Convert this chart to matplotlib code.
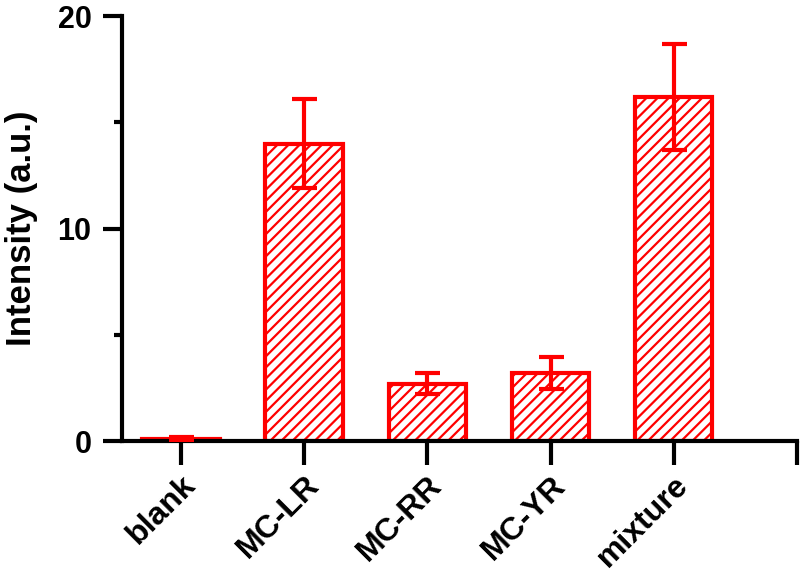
import numpy as np
import matplotlib
matplotlib.use('Agg')
import matplotlib.pyplot as plt
import matplotlib.transforms as mtransforms

categories = ['blank', 'MC-LR', 'MC-RR', 'MC-YR', 'mixture']
intensity = [0.1, 14.0, 2.7, 3.2, 16.2]
errors = [0.1, 2.1, 0.5, 0.75, 2.5]

plt.rcParams['font.family'] = ['Liberation Sans', 'DejaVu Sans']
plt.rcParams['font.weight'] = 'bold'
plt.rcParams['hatch.color'] = 'red'
plt.rcParams['hatch.linewidth'] = 1.6

fig = plt.figure(figsize=(8, 5.72), dpi=100)
ax = fig.add_axes([0.1525, 0.229, 0.8435, 0.743])

x = np.arange(len(categories))
ax.bar(x, intensity, width=0.63, facecolor='white', edgecolor='red',
       linewidth=3, hatch='///', zorder=2)
ax.errorbar(x, intensity, yerr=errors, fmt='none', ecolor='red',
            elinewidth=3, capsize=9, capthick=3, zorder=3)

ax.set_xlim(-0.48, 5.0)
ax.set_ylim(0, 20)
ax.set_xticks(list(x) + [5])
ax.set_xticklabels(categories + [''], rotation=45, ha='right', va='top',
                   rotation_mode='anchor', fontsize=23, fontweight='bold')
offset = mtransforms.ScaledTranslation(0.07, 0, fig.dpi_scale_trans)
for lbl in ax.get_xticklabels():
    lbl.set_transform(lbl.get_transform() + offset)
ax.set_yticks([0, 10, 20])
ax.set_yticks([5, 15], minor=True)
ax.tick_params(axis='y', labelsize=22, width=3, length=14, direction='out', pad=8)
ax.tick_params(axis='y', which='minor', width=3, length=6)
ax.tick_params(axis='x', width=3, length=17, direction='out', pad=4)
for lbl in ax.get_yticklabels():
    lbl.set_fontweight('bold')

ax.spines['top'].set_visible(False)
ax.spines['right'].set_visible(False)
ax.spines['left'].set_linewidth(3)
ax.spines['bottom'].set_linewidth(3)

ax.set_ylabel('Intensity (a.u.)', fontsize=25, fontweight='bold', labelpad=14)

fig.savefig('out.png', dpi=100)
